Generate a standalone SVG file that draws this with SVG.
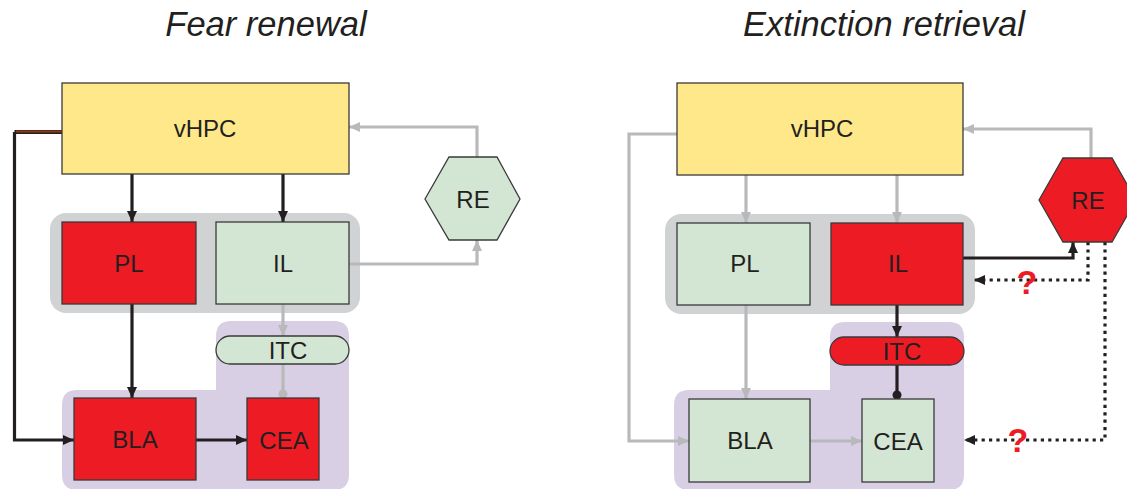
<svg xmlns="http://www.w3.org/2000/svg" width="1127" height="489" viewBox="0 0 1127 489">
  <style>
    .title { font-family: "Liberation Sans", Arial, sans-serif; font-style: italic; font-size: 34.5px; fill: #231f20; text-anchor: middle; }
    .lbl { font-family: "Liberation Sans", Arial, sans-serif; font-size: 24px; fill: #231f20; text-anchor: middle; }
    .q { font-family: "Liberation Sans", Arial, sans-serif; font-weight: bold; font-size: 34px; fill: #ed1c24; text-anchor: middle; }
    .node { stroke: #3a3a3a; stroke-width: 1.3; }
    .yellow { fill: #fee88a; }
    .red { fill: #ed1c24; }
    .green { fill: #d3e5d3; }
    .grp-gray { fill: #d1d2d4; }
    .grp-purple { fill: #d9cfe4; }
    .blk { fill: none; stroke: #231f20; stroke-width: 3.2; }
    .gry { fill: none; stroke: #b8b9bb; stroke-width: 3.2; }
    .dot { fill: none; stroke: #231f20; stroke-width: 3.2; stroke-dasharray: 3.2 4.2; }
  </style>
  <defs>
    <marker id="ah-blk" markerUnits="userSpaceOnUse" markerWidth="11" markerHeight="10" refX="11" refY="5" orient="auto">
      <path d="M0,0 L11,5 L0,10 z" fill="#231f20"/>
    </marker>
    <marker id="ah-gry" markerUnits="userSpaceOnUse" markerWidth="11" markerHeight="10" refX="11" refY="5" orient="auto">
      <path d="M0,0 L11,5 L0,10 z" fill="#b8b9bb"/>
    </marker>
  </defs>

  <!-- panel titles -->
  <text class="title" x="266" y="36">Fear renewal</text>
  <text class="title" x="884" y="36">Extinction retrieval</text>

  <!-- region backgrounds -->
  <g id="groups">
    <rect class="grp-gray" x="50" y="213" width="310" height="100" rx="16"/>
    <path class="grp-purple" d="M62,405 Q62,390 77,390 L216,390 L216,336 Q216,321 231,321 L334,321 Q349,321 349,336 L349,475 Q349,490 334,490 L77,490 Q62,490 62,475 Z"/>
    <rect class="grp-gray" x="665" y="214" width="310" height="100" rx="16"/>
    <path class="grp-purple" d="M674,405 Q674,390 689,390 L830,390 L830,337 Q830,322 845,322 L949,322 Q964,322 964,337 L964,475 Q964,490 949,490 L689,490 Q674,490 674,475 Z"/>
  </g>

  <!-- connectors -->
  <g id="connectors">
    <!-- fear renewal -->
    <path class="blk" d="M14.5,132 L14.5,440 L74,440" marker-end="url(#ah-blk)"/>
    <path d="M14.5,132 L62,132" fill="none" stroke="#231f20" stroke-width="4"/>
    <path d="M16,131.5 L62,131.5" fill="none" stroke="#8b3a1a" stroke-width="2"/>
    <path class="blk" d="M132,174 L132,222" marker-end="url(#ah-blk)"/>
    <path class="blk" d="M283,174 L283,222" marker-end="url(#ah-blk)"/>
    <path class="blk" d="M132,304 L132,398" marker-end="url(#ah-blk)"/>
    <path class="blk" d="M196,440 L247,440" marker-end="url(#ah-blk)"/>
    <path class="gry" d="M283,304 L283,336" marker-end="url(#ah-gry)"/>
    <path class="gry" d="M283,364 L283,394"/>
    <circle cx="283" cy="394" r="4.5" fill="#b8b9bb"/>
    <path class="gry" d="M477,157 L477,127 L349,127" marker-end="url(#ah-gry)"/>
    <path class="gry" d="M349,264 L477,264 L477,240" marker-end="url(#ah-gry)"/>

    <!-- extinction retrieval -->
    <path class="gry" d="M677,134 L629,134 L629,441 L689,441" marker-end="url(#ah-gry)"/>
    <path class="gry" d="M746,175 L746,223" marker-end="url(#ah-gry)"/>
    <path class="gry" d="M897,175 L897,223" marker-end="url(#ah-gry)"/>
    <path class="gry" d="M746,305 L746,399" marker-end="url(#ah-gry)"/>
    <path class="gry" d="M810,441 L862,441" marker-end="url(#ah-gry)"/>
    <path class="blk" d="M897,305 L897,337" marker-end="url(#ah-blk)"/>
    <path class="blk" d="M897,365 L897,395"/>
    <circle cx="897" cy="395" r="4.5" fill="#231f20"/>
    <path class="gry" d="M1091,158 L1091,129 L963,129" marker-end="url(#ah-gry)"/>
    <path class="blk" d="M963,258 L1073,258 L1073,242" marker-end="url(#ah-blk)"/>
    <path class="dot" d="M1088,242 L1088,280 L974,280" marker-end="url(#ah-blk)"/>
    <path class="dot" d="M1105,242 L1105,440 L964,440" marker-end="url(#ah-blk)"/>
    <text class="q" x="1027" y="294">?</text>
    <text class="q" x="1018" y="452">?</text>
  </g>

  <!-- fear renewal nodes -->
  <g id="fr-vhpc"><rect class="node yellow" x="62" y="83" width="287" height="91"/><text class="lbl" x="205" y="137">vHPC</text></g>
  <g id="fr-pl"><rect class="node red" x="62" y="222" width="134" height="82"/><text class="lbl" x="129" y="272">PL</text></g>
  <g id="fr-il"><rect class="node green" x="216" y="222" width="133" height="82"/><text class="lbl" x="283" y="272">IL</text></g>
  <g id="fr-re"><polygon class="node green" points="425,199 449,157 497,157 520,199 497,240 449,240"/><text class="lbl" x="473" y="208">RE</text></g>
  <g id="fr-itc"><rect class="node green" x="216" y="336" width="133" height="28" rx="14"/><text class="lbl" x="288" y="359">ITC</text></g>
  <g id="fr-bla"><rect class="node red" x="74" y="398" width="122" height="82"/><text class="lbl" x="135" y="448">BLA</text></g>
  <g id="fr-cea"><rect class="node red" x="247" y="398" width="72" height="82"/><text class="lbl" x="284" y="449">CEA</text></g>

  <!-- extinction retrieval nodes -->
  <g id="er-vhpc"><rect class="node yellow" x="677" y="83" width="286" height="92"/><text class="lbl" x="822" y="137">vHPC</text></g>
  <g id="er-pl"><rect class="node green" x="677" y="223" width="133" height="82"/><text class="lbl" x="745" y="272">PL</text></g>
  <g id="er-il"><rect class="node red" x="831" y="223" width="132" height="82"/><text class="lbl" x="898" y="272">IL</text></g>
  <g id="er-re"><polygon class="node red" points="1039,200 1063,158 1112,158 1136,200 1112,242 1063,242"/><text class="lbl" x="1088" y="209">RE</text></g>
  <g id="er-itc"><rect class="node red" x="830" y="337" width="134" height="28" rx="14"/><text class="lbl" x="902" y="360">ITC</text></g>
  <g id="er-bla"><rect class="node green" x="689" y="399" width="121" height="83"/><text class="lbl" x="750" y="449">BLA</text></g>
  <g id="er-cea"><rect class="node green" x="862" y="399" width="72" height="83"/><text class="lbl" x="898" y="450">CEA</text></g>
</svg>
